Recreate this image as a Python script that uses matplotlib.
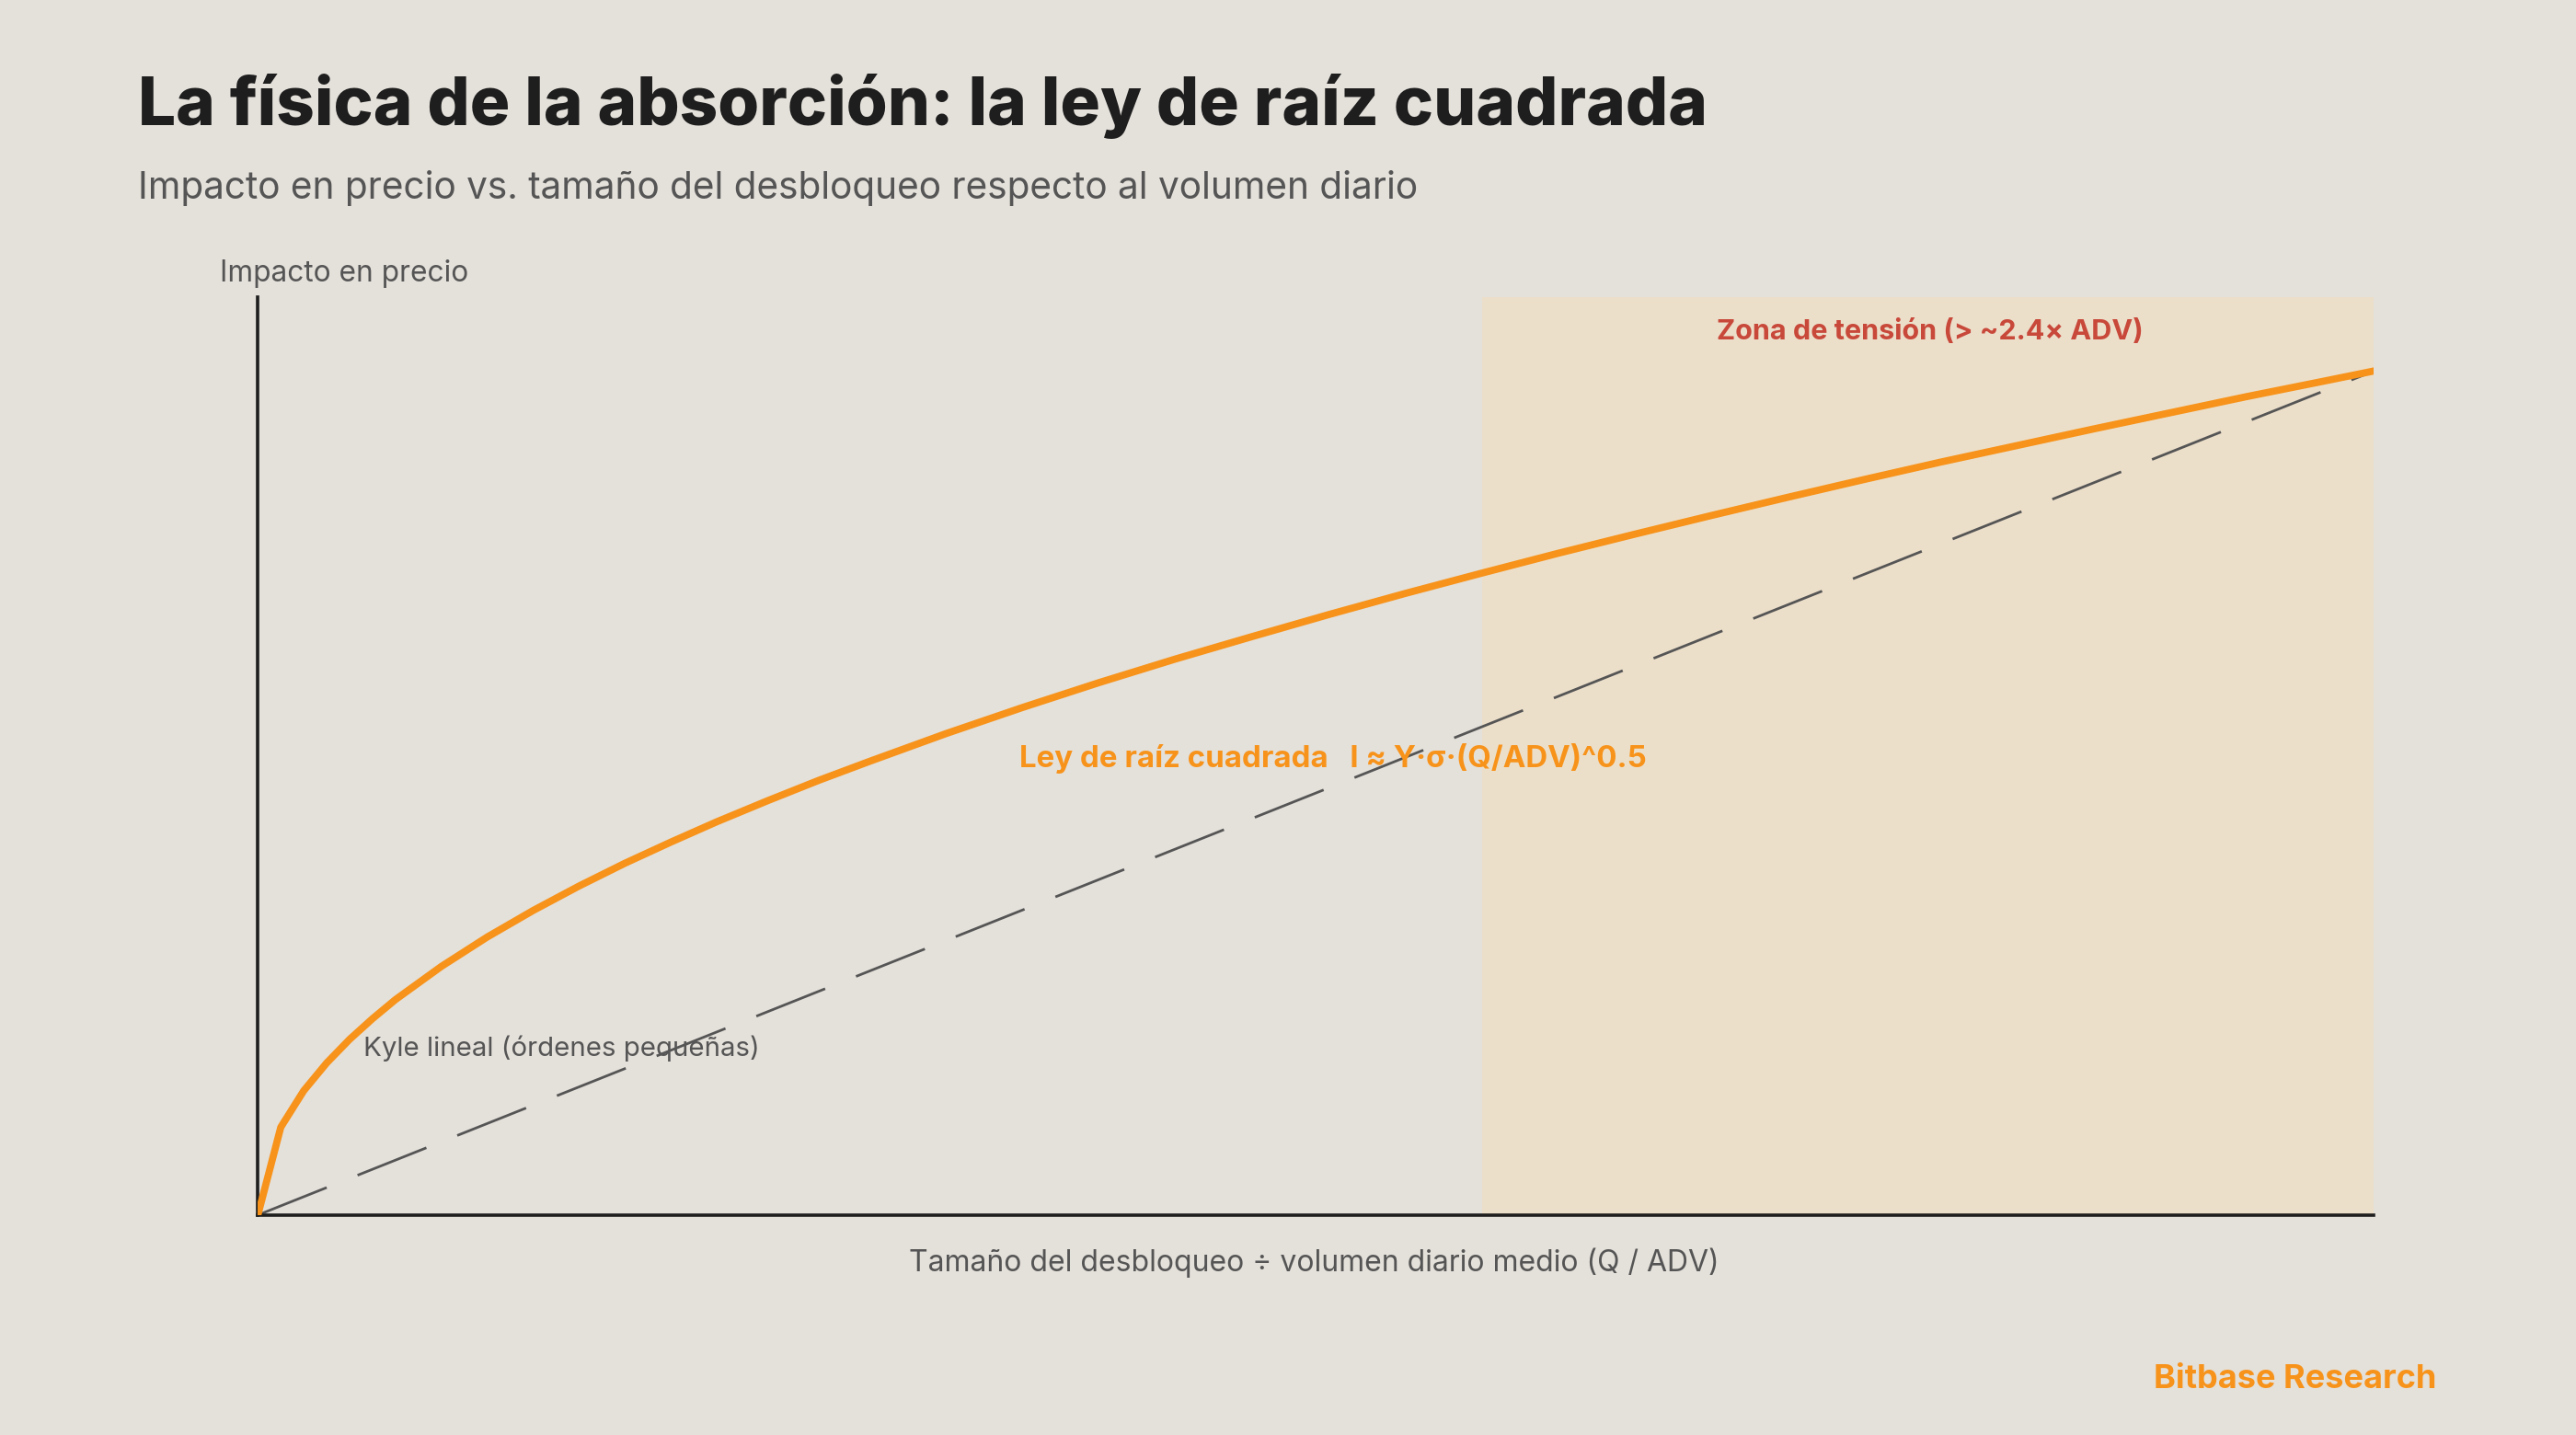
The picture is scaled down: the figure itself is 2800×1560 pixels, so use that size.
import matplotlib
matplotlib.use("Agg")
import matplotlib.pyplot as plt

# data
q_adv = [0.0, 0.045, 0.09, 0.135, 0.18, 0.225, 0.27, 0.36, 0.45, 0.54, 0.63,
         0.72, 0.81, 0.9, 1.0, 1.1, 1.2, 1.35, 1.5, 1.65, 1.8, 1.95, 2.1,
         2.25, 2.4, 2.55, 2.7, 2.85, 3.0, 3.15, 3.3, 3.45, 3.6, 3.75, 3.9,
         4.05, 4.15]
impact_sqrt = [0.0, 0.212, 0.300, 0.367, 0.424, 0.474, 0.520, 0.600, 0.671,
               0.735, 0.794, 0.849, 0.900, 0.949, 1.000, 1.049, 1.095, 1.162,
               1.225, 1.285, 1.342, 1.396, 1.449, 1.500, 1.549, 1.597, 1.643,
               1.688, 1.732, 1.775, 1.817, 1.857, 1.897, 1.936, 1.975, 2.012,
               2.037]
kyle_q = [0.0, 4.15]
kyle_impact = [0.0, 2.037]
zone_start = 2.4
zone_end = 4.15

BG = "#E4E0DA"
ORANGE = "#F7931A"
RED = "#C8483A"
GREY = "#555555"
DARK = "#1E1E1E"

plt.rcParams["font.family"] = ["Inter", "DejaVu Sans"]

fig = plt.figure(figsize=(14, 7.8), dpi=200, facecolor=BG)
ax = fig.add_axes([0.1001, 0.1533, 0.8215, 0.6396], facecolor=BG)

ax.axvspan(zone_start, zone_end, color="#ECDFCA", zorder=0, lw=0)
ax.plot(kyle_q, kyle_impact, color=GREY, lw=1.0, dashes=(29, 13), zorder=2)
ax.plot(q_adv, impact_sqrt, color=ORANGE, lw=2.8, zorder=3)

ax.set_xlim(0, 4.15)
ax.set_ylim(0, 2.215)
ax.set_xticks([])
ax.set_yticks([])
for s in ["top", "right"]:
    ax.spines[s].set_visible(False)
for s in ["left", "bottom"]:
    ax.spines[s].set_color(DARK)
    ax.spines[s].set_linewidth(1.3)

ax.text(0.508 * 4.15, 0.497 * 2.215,
        "Ley de raíz cuadrada   I ≈ Y·σ·(Q/ADV)^0.5",
        color=ORANGE, fontsize=11.9, fontweight="bold", ha="center", va="center")
ax.text(0.79 * 4.15, 0.962 * 2.215, "Zona de tensión (> ~2.4× ADV)",
        color=RED, fontsize=11, fontweight="bold", ha="center", va="center")
ax.text(0.0497 * 4.15, 0.182 * 2.215, "Kyle lineal (órdenes pequeñas)",
        color=GREY, fontsize=10.6, ha="left", va="center")

fig.text(0.0536, 0.926, "La física de la absorción: la ley de raíz cuadrada",
         fontsize=26.2, fontweight="heavy", color=DARK, ha="left", va="center")
fig.text(0.0536, 0.869,
         "Impacto en precio vs. tamaño del desbloqueo respecto al volumen diario",
         fontsize=14.6, color=GREY, ha="left", va="center")
fig.text(0.0855, 0.809, "Impacto en precio", fontsize=11.4, color=GREY,
         ha="left", va="center")
fig.text(0.51, 0.12, "Tamaño del desbloqueo ÷ volumen diario medio (Q / ADV)",
         fontsize=11.5, color=GREY, ha="center", va="center")
fig.text(0.9458, 0.039, "Bitbase Research", fontsize=13, fontweight="bold",
         color=ORANGE, ha="right", va="center")

fig.savefig("out.png", dpi=200, facecolor=BG)
